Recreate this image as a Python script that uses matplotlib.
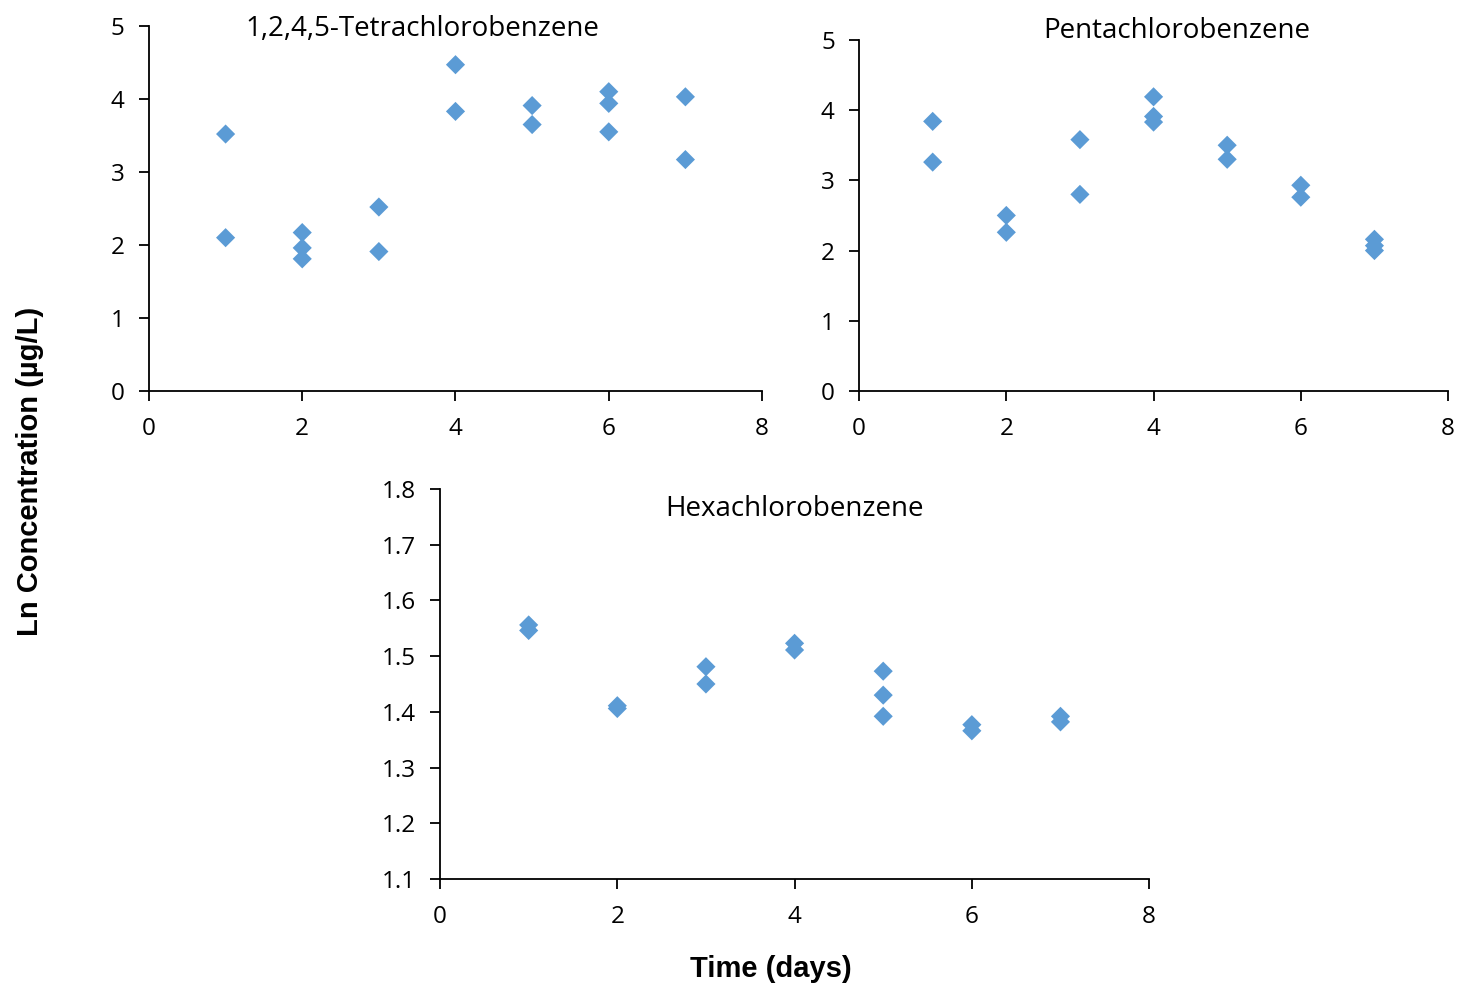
import matplotlib.pyplot as plt

# day of sampling
days_tecb = [1, 1, 2, 2, 2, 3, 3, 4, 4, 5, 5, 6, 6, 6, 7, 7]
ln_tecb = [3.52, 2.10, 2.17, 1.96, 1.81, 2.52, 1.91, 4.47, 3.83, 3.91, 3.65,
           4.10, 3.94, 3.55, 4.03, 3.17]

days_pecb = [1, 1, 2, 2, 3, 3, 4, 4, 4, 5, 5, 6, 6, 7, 7, 7]
ln_pecb = [3.84, 3.26, 2.50, 2.26, 3.58, 2.80, 4.19, 3.91, 3.83, 3.50, 3.30,
           2.93, 2.76, 2.16, 2.07, 2.00]

days_hcb = [1, 1, 2, 2, 3, 3, 4, 4, 5, 5, 5, 6, 6, 7, 7]
ln_hcb = [1.556, 1.546, 1.411, 1.406, 1.481, 1.450, 1.523, 1.511, 1.473, 1.430,
          1.392, 1.377, 1.366, 1.392, 1.382]

titles = ["1,2,4,5-Tetrachlorobenzene", "Pentachlorobenzene", "Hexachlorobenzene"]

color = "#5B9BD5"
tick_font = "Open Sans"

fig = plt.figure(figsize=(14.59, 9.89), dpi=100)

ax1 = fig.add_axes([0.1021, 0.6047, 0.4202, 0.3690])
ax2 = fig.add_axes([0.5888, 0.6047, 0.4037, 0.3549])
ax3 = fig.add_axes([0.3016, 0.1112, 0.4860, 0.3944])

panels = [
    (ax1, days_tecb, ln_tecb, (0, 5), [0, 1, 2, 3, 4, 5], "{:.0f}"),
    (ax2, days_pecb, ln_pecb, (0, 5), [0, 1, 2, 3, 4, 5], "{:.0f}"),
    (ax3, days_hcb, ln_hcb, (1.1, 1.8), [1.1, 1.2, 1.3, 1.4, 1.5, 1.6, 1.7, 1.8], "{:.1f}"),
]

for ax, x, y, ylim, yticks, fmt in panels:
    ax.scatter(x, y, marker="D", s=95, color=color, edgecolors="none", zorder=3,
               clip_on=False)
    ax.set_xlim(0, 8)
    ax.set_ylim(*ylim)
    ax.set_xticks([0, 2, 4, 6, 8])
    ax.set_yticks(yticks)
    ax.set_xticklabels([str(v) for v in [0, 2, 4, 6, 8]], fontfamily=tick_font, fontsize=17.5)
    ax.set_yticklabels([fmt.format(v) for v in yticks], fontfamily=tick_font, fontsize=17.5)
    ax.spines["top"].set_visible(False)
    ax.spines["right"].set_visible(False)
    ax.spines["left"].set_linewidth(1.3)
    ax.spines["bottom"].set_linewidth(1.3)
    ax.tick_params(direction="out", length=7.5, width=1.3)
    ax.tick_params(axis="x", pad=11)
    ax.tick_params(axis="y", pad=10)

fig.text(422 / 1459, 1 - 29 / 989, titles[0], ha="center", va="center",
         fontfamily=tick_font, fontsize=20)
fig.text(1177 / 1459, 1 - 31 / 989, titles[1], ha="center", va="center",
         fontfamily=tick_font, fontsize=20)
fig.text(795 / 1459, 1 - 509 / 989, titles[2], ha="center", va="center",
         fontfamily=tick_font, fontsize=20)

fig.text(30 / 1459, 1 - 471 / 989, "Ln Concentration (µg/L)", rotation=90,
         ha="center", va="center", fontfamily="Liberation Sans", fontweight="bold",
         fontsize=21)
fig.text(771 / 1459, 1 - 969 / 989, "Time (days)", ha="center", va="center",
         fontfamily="Liberation Sans", fontweight="bold", fontsize=21)

fig.savefig("out.png", dpi=100)
